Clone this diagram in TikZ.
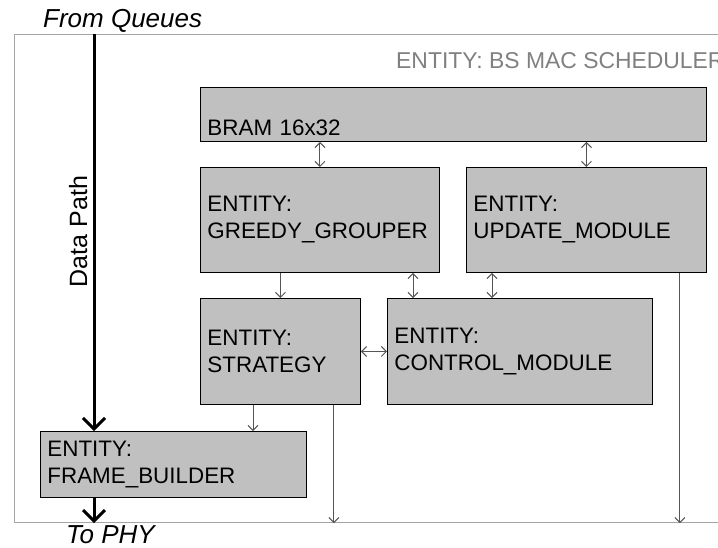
\documentclass[tikz,border=0pt]{standalone}
\usepackage{fontspec}
\setmainfont{Liberation Sans}
\usetikzlibrary{arrows.meta,calc}
\definecolor{boxgray}{RGB}{192,192,192}
\definecolor{conngray}{RGB}{85,85,85}
\definecolor{framegray}{RGB}{165,165,165}
\definecolor{titlegray}{RGB}{128,128,128}
\begin{document}
\begin{tikzpicture}[x=1pt,y=-1pt,
  entity/.style={draw=black, line width=0.9pt, fill=boxgray, anchor=north west,
    inner xsep=7pt, inner ysep=0pt, align=left,
    font=\fontsize{22.4}{27}\selectfont},
  conn/.style={draw=conngray, line width=1pt, >={Straight Barb[length=5pt,width=10pt]}},
  datapath/.style={draw=black, line width=3pt, -{Straight Barb[length=11pt,width=22pt]}},
  framebox/.style={draw=framegray, line width=1.2pt, anchor=north west, inner sep=0pt},
  plain/.style={inner sep=0pt}
]
\useasboundingbox (0,0) rectangle (718,547);
\clip (0,0) rectangle (718,547);

% outer frame
\node[framebox, minimum width=716pt, minimum height=488pt] (frame) at (14,34) {};

% title of frame
\node[plain, anchor=base west, text=titlegray, font=\fontsize{22.9}{27}\selectfont] (title) at (396,68) {ENTITY: BS MAC SCHEDULER};

% boxes
\node[entity, minimum width=506pt, minimum height=54pt, text width=492pt, text height=48pt, text depth=6pt] (bram) at (200,87) {BRAM 16x32};
\node[entity, minimum width=239pt, minimum height=105pt, text width=225pt] (greedy) at (200,167) {ENTITY:\\GREEDY\_GROUPER};
\node[entity, minimum width=240pt, minimum height=105pt, text width=226pt] (update) at (466,167) {ENTITY:\\UPDATE\_MODULE};
\node[entity, minimum width=160pt, minimum height=106pt, text width=146pt] (strategy) at (200,298) {ENTITY:\\STRATEGY};
\node[entity, minimum width=265pt, minimum height=106pt, text width=251pt] (control) at (387,298) {ENTITY:\\CONTROL\_MODULE};
\node[entity, minimum width=266pt, minimum height=66pt, text width=252pt] (fb) at (40,431) {ENTITY:\\FRAME\_BUILDER};

% data path
\node[plain, anchor=base west, font=\fontsize{26}{30}\selectfont\itshape] (fq) at (43,27) {From Queues};
\node[plain, anchor=base west, font=\fontsize{26}{30}\selectfont\itshape] (tophy) at (66,543.5) {To PHY};
\node[plain, rotate=90, anchor=base, font=\fontsize{25}{30}\selectfont] (dplabel) at (87,231.5) {Data Path};
\coordinate (dptop) at (94,34);
\draw[datapath] (dptop) -- (dptop |- fb.north);
\draw[datapath] (dptop |- fb.south) -- (dptop |- frame.south);

% connectors
\draw[conn,<->] (bram.south -| greedy.north) -- (greedy.north);
\draw[conn,<->] (bram.south -| update.north) -- (update.north);
\draw[conn,->] (greedy.south -| strategy.north) -- (strategy.north);
\draw[conn,<->] ([xshift=26pt]control.north west |- greedy.south) -- ([xshift=26pt]control.north west);
\draw[conn,<->] ([xshift=26pt]update.south west) -- ([xshift=26pt]update.south west |- control.north);
\draw[conn,<->] (strategy.east) -- (control.west);
\draw[conn,->] ([xshift=53pt]strategy.south west) -- ([xshift=53pt]strategy.south west |- fb.north);
\draw[conn,->] ([xshift=-27pt]strategy.south east) -- ([xshift=-27pt]strategy.south east |- frame.south);
\draw[conn,->] ([xshift=-27pt]update.south east) -- ([xshift=-27pt]update.south east |- frame.south);
\end{tikzpicture}
\end{document}
